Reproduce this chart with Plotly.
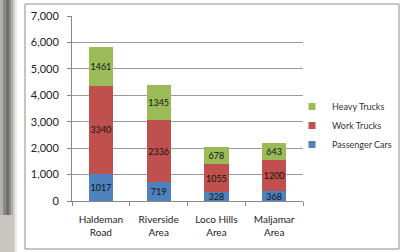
import plotly.graph_objects as go

categories = ["Haldeman<br>Road", "Riverside<br>Area", "Loco Hills<br>Area", "Maljamar<br>Area"]
passenger_cars = [1017, 719, 328, 368]
work_trucks = [3340, 2336, 1055, 1200]
heavy_trucks = [1461, 1345, 678, 643]

FONT = "Lato"
fig = go.Figure()
series = [
    ("Passenger Cars", passenger_cars, "#4F81BD"),
    ("Work Trucks", work_trucks, "#C0504D"),
    ("Heavy Trucks", heavy_trucks, "#9BBB59"),
]
for name, vals, col in series:
    fig.add_trace(go.Bar(
        x=categories, y=vals, name=name, legendgroup=name, showlegend=False,
        marker=dict(color=col, line=dict(width=0)),
        text=[str(v) for v in vals], textposition="inside", textangle=0,
        insidetextanchor="middle", constraintext="none",
        textfont=dict(family=FONT, size=9, color="#111111"),
        cliponaxis=False, hoverinfo="skip",
    ))
    # legend proxy (small square swatch)
    fig.add_trace(go.Scatter(
        x=[None], y=[None], mode="markers", name=name, legendgroup=name,
        marker=dict(symbol="square", size=7, color=col),
    ))

L, R, T, B = 72, 107, 16, 51
PW = 410 - L - R
PH = 252 - T - B

def px_x(p):
    return (p - L) / PW

def px_y(p):
    return (252 - B - p) / PH

shapes = []
# left shadow gradient
shades = [(0, 3, "#b0b0ae"), (3, 6, "#8a8a88"), (6, 9, "#6e6e6c"), (9, 11, "#8c8c8a"), (11, 13, "#adadab"), (13, 15, "#cfcfcd"), (15, 17, "#ececea")]
for a, b, c in shades:
    shapes.append(dict(type="rect", xref="paper", yref="paper", x0=px_x(a), x1=px_x(b),
                       y0=px_y(252), y1=px_y(0), fillcolor=c, line=dict(width=0), layer="below"))
# lighter lower part
shapes.append(dict(type="rect", xref="paper", yref="paper", x0=px_x(0), x1=px_x(14),
                   y0=px_y(252), y1=px_y(215), fillcolor="#c9c6c0", line=dict(width=0), layer="below"))
# chart border
shapes.append(dict(type="rect", xref="paper", yref="paper", x0=px_x(25), x1=px_x(399),
                   y0=px_y(249), y1=px_y(4), line=dict(color="#8c8c8c", width=1), layer="below"))

fig.update_layout(
    width=410, height=252,
    margin=dict(l=L, r=R, t=T, b=B, autoexpand=False),
    barmode="stack", bargap=0.58,
    uniformtext=dict(minsize=9, mode="show"),
    paper_bgcolor="white", plot_bgcolor="white",
    font=dict(family=FONT, size=10, color="#222222"),
    shapes=shapes,
    legend=dict(
        x=px_x(292), y=px_y(92), xanchor="left", yanchor="top",
        traceorder="reversed", font=dict(family=FONT, size=9, color="#333333"),
        bgcolor="rgba(0,0,0,0)", itemwidth=30, tracegroupgap=3,
    ),
    xaxis=dict(
        showline=True, linecolor="#888888", linewidth=1, automargin=False,
        ticks="outside", tickson="boundaries", ticklen=4, tickcolor="#888888",
        tickfont=dict(family=FONT, size=10, color="#222222"), tickangle=0,
        ticklabelstandoff=9,
        showgrid=False,
    ),
    yaxis=dict(
        range=[0, 7000], dtick=1000, tickformat=",", automargin=False,
        showline=True, linecolor="#888888", linewidth=1,
        ticks="outside", ticklen=4, tickcolor="#888888",
        ticklabelstandoff=6,
        showgrid=True, gridcolor="#9a9a9a", gridwidth=1,
        tickfont=dict(family=FONT, size=11, color="#222222"),
        zeroline=False,
    ),
)
fig.write_html("out.html", config={"displayModeBar": False},
               post_script="document.body.style.margin='0';document.body.style.overflow='hidden';")
